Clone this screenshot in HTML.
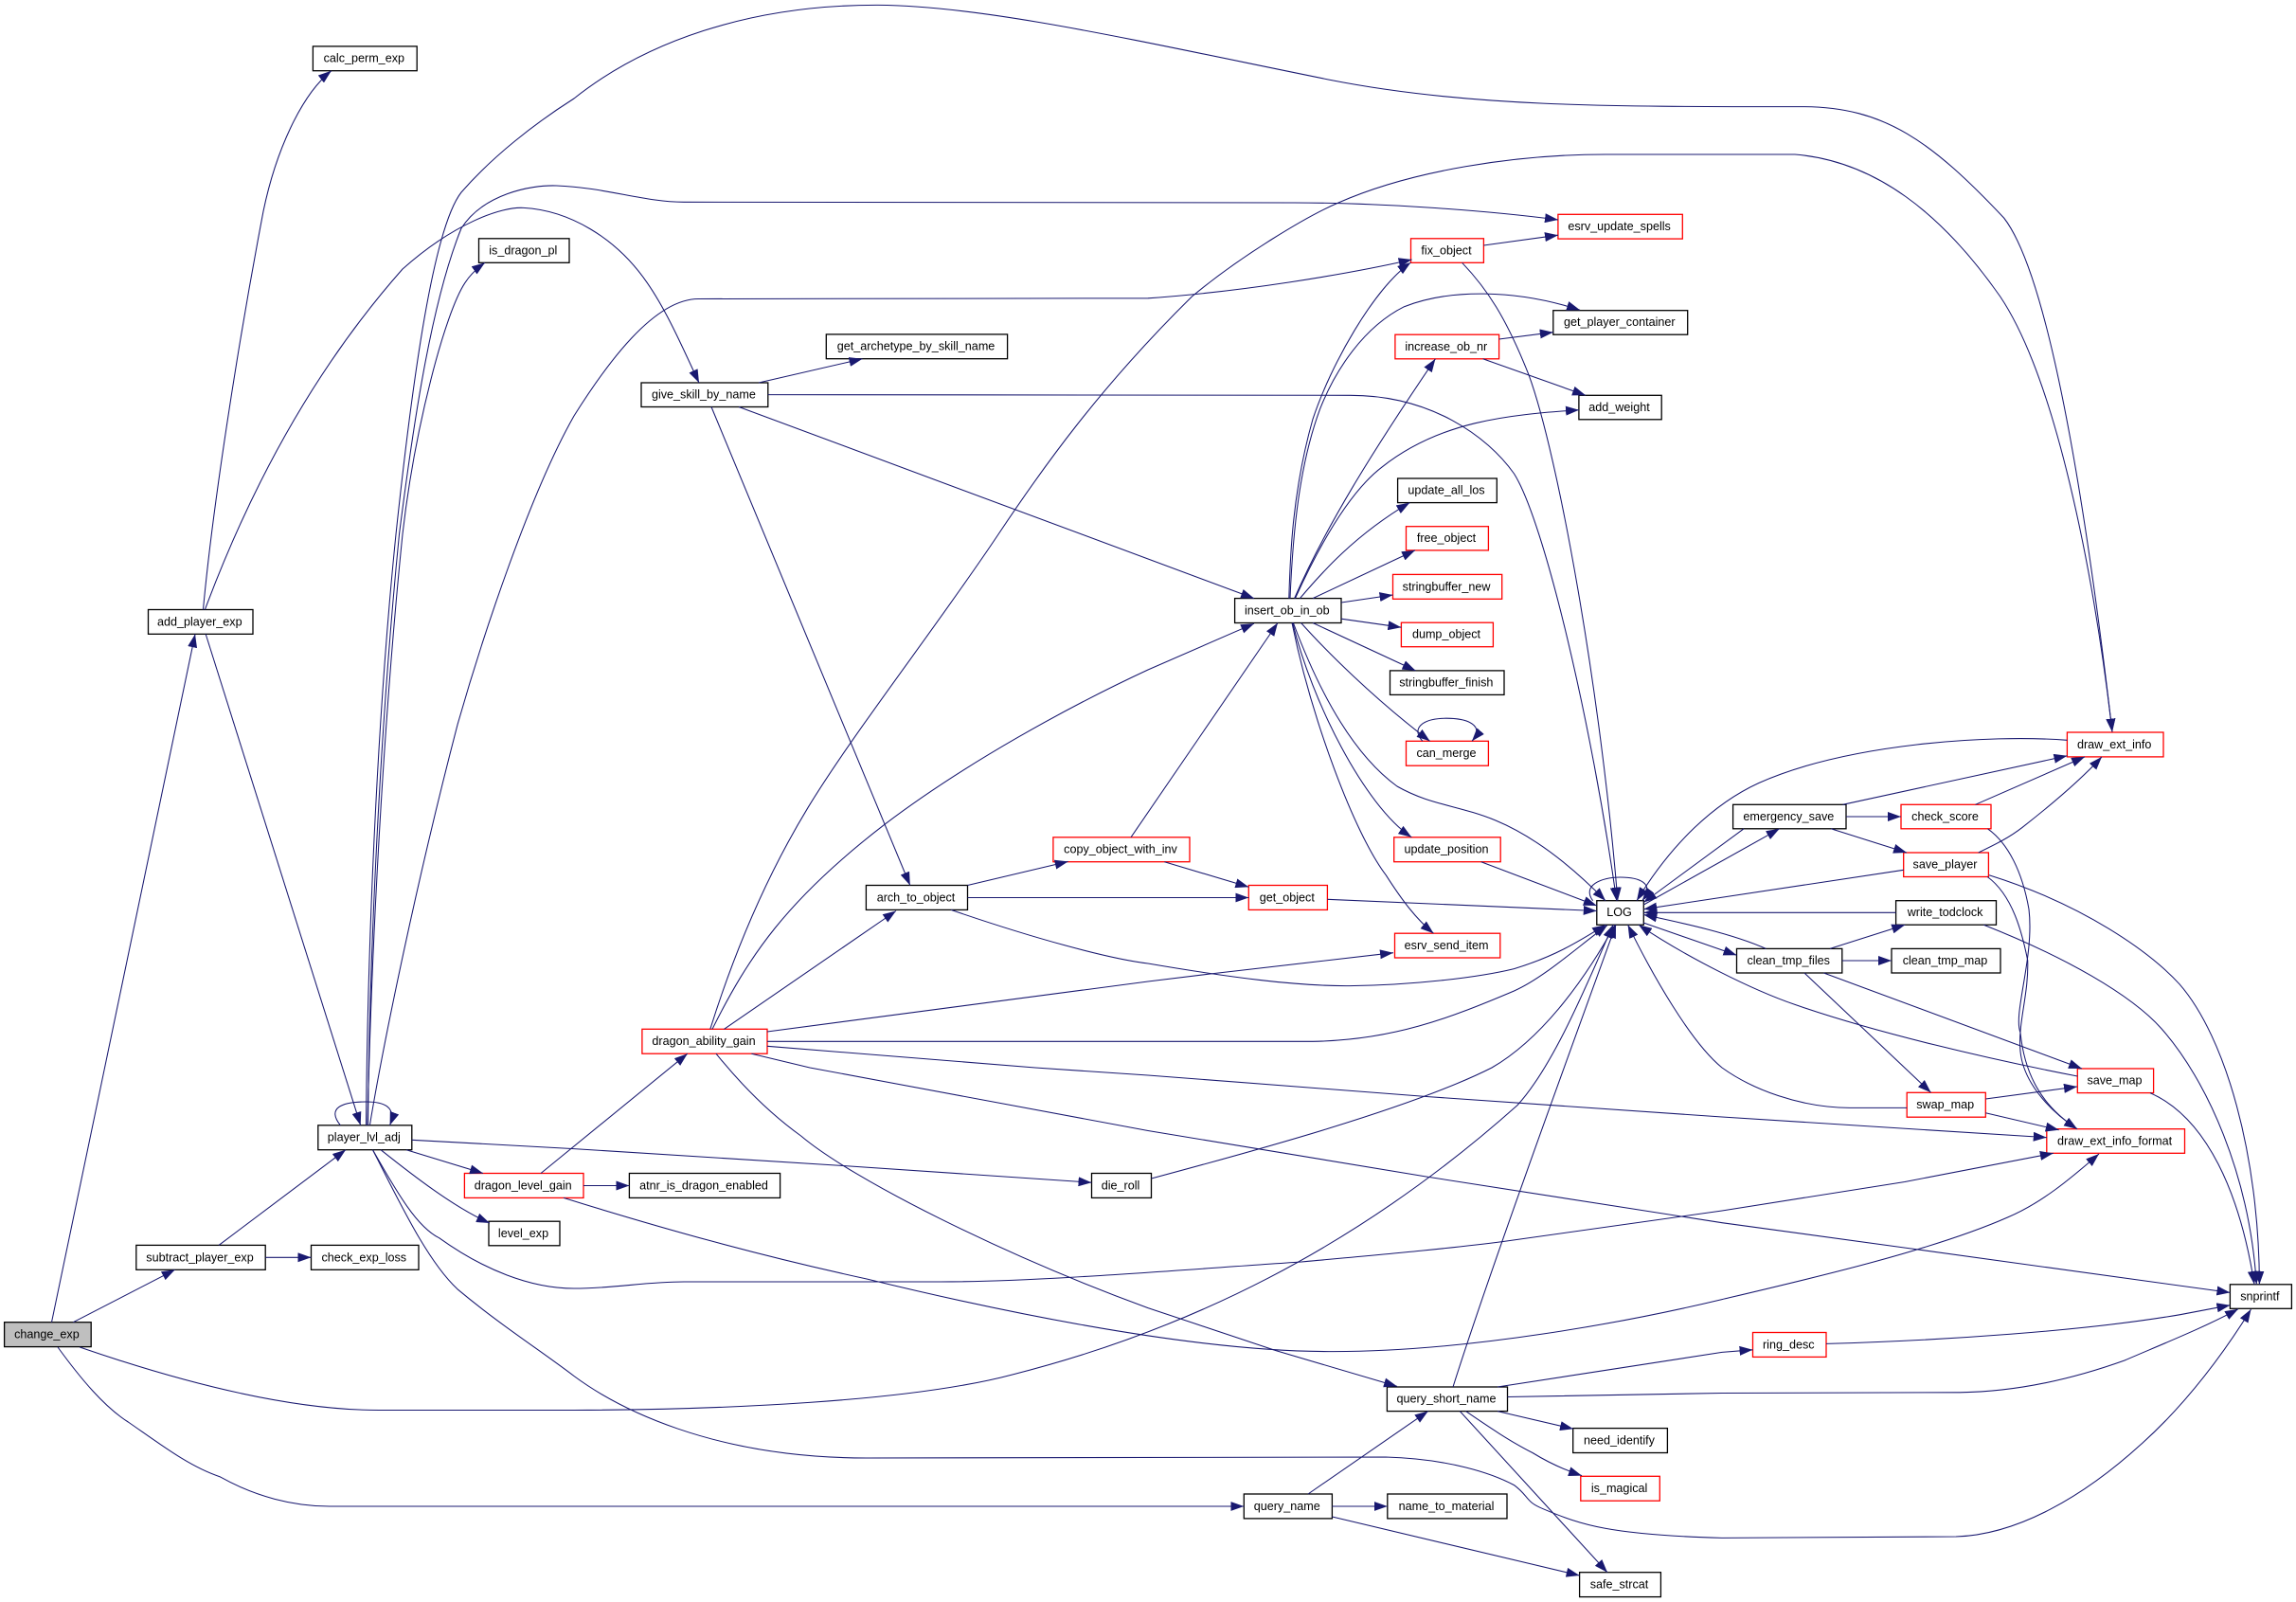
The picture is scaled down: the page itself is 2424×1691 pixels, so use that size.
<!DOCTYPE html>
<html>
<head>
<meta charset="utf-8">
<title>change_exp call graph</title>
<style>
html,body{margin:0;padding:0;background:#fff;width:2424px;height:1691px;overflow:hidden}
svg{display:block}
rect{fill:#fff;stroke-width:1.3}
rect.k{stroke:#000}
rect.r{stroke:#f00}
text{font-family:"Liberation Sans",Helvetica,Arial,sans-serif;font-size:12.6px;fill:#000;text-anchor:middle}
.e path{fill:none;stroke:#191970;stroke-width:1.05;marker-end:url(#a)}
</style>
</head>
<body>
<svg xmlns="http://www.w3.org/2000/svg" width="2424" height="1691" viewBox="0 0 2424 1691">
<defs>
<marker id="a" markerUnits="userSpaceOnUse" markerWidth="14" markerHeight="10" refX="14" refY="5" orient="auto"><path d="M0 0L14 5L0 10z" fill="#191970"/></marker>
</defs>
<rect x="0" y="0" width="2424" height="1691" style="fill:#fff;stroke:none"/>
<g>
<rect class="k" x="330.4" y="48.9" width="109.8" height="25.8"/><text x="384.3" y="65.6">calc_perm_exp</text>
<rect class="k" x="505.5" y="251.8" width="95.5" height="25.5"/><text x="552.3" y="268.3">is_dragon_pl</text>
<rect class="k" x="156.5" y="643.5" width="110.5" height="25.8"/><text x="210.8" y="660.3">add_player_exp</text>
<rect class="k" x="677" y="404" width="133.8" height="25.5"/><text x="742.9" y="420.5">give_skill_by_name</text>
<rect class="k" x="872.3" y="352.9" width="191.3" height="25.8"/><text x="967" y="369.7">get_archetype_by_skill_name</text>
<rect class="r" x="1644.9" y="226.3" width="131.4" height="25.8"/><text x="1709.6" y="243.2">esrv_update_spells</text>
<rect class="r" x="1489.5" y="251.8" width="76.9" height="25.5"/><text x="1527" y="268.3">fix_object</text>
<rect class="k" x="1639.8" y="327.7" width="141.9" height="25.5"/><text x="1709.8" y="344.2">get_player_container</text>
<rect class="r" x="1472.9" y="353.2" width="109.7" height="25.6"/><text x="1526.8" y="369.8">increase_ob_nr</text>
<rect class="k" x="1666.9" y="417.3" width="87.3" height="25.5"/><text x="1709.5" y="433.8">add_weight</text>
<rect class="k" x="1475.6" y="505" width="104.7" height="25.6"/><text x="1527" y="521.6">update_all_los</text>
<rect class="r" x="1484.5" y="555.7" width="86.9" height="25.2"/><text x="1527" y="572">free_object</text>
<rect class="r" x="1470.5" y="606.4" width="115.2" height="25.9"/><text x="1527.1" y="623.3">stringbuffer_new</text>
<rect class="r" x="1479.4" y="657.2" width="97" height="25.5"/><text x="1527" y="673.7">dump_object</text>
<rect class="k" x="1467.5" y="707.9" width="120.5" height="25.5"/><text x="1526.8" y="724.4">stringbuffer_finish</text>
<rect class="r" x="1484.5" y="782.3" width="86.9" height="25.9"/><text x="1527" y="799.2">can_merge</text>
<rect class="k" x="1303.6" y="631.6" width="112.4" height="25.9"/><text x="1358.8" y="648.5">insert_ob_in_ob</text>
<rect class="r" x="1471.7" y="883.8" width="112.5" height="25.9"/><text x="1527" y="900.7">update_position</text>
<rect class="r" x="1111.9" y="883.8" width="144.1" height="25.9"/><text x="1183" y="900.7">copy_object_with_inv</text>
<rect class="r" x="1318.3" y="934.5" width="83.1" height="25.9"/><text x="1358.8" y="951.4">get_object</text>
<rect class="k" x="1685.8" y="950.7" width="49.5" height="25.5"/><text x="1709.5" y="967.2">LOG</text>
<rect class="r" x="1472.5" y="985.2" width="111.3" height="25.8"/><text x="1527.1" y="1002">esrv_send_item</text>
<rect class="k" x="914.4" y="934.5" width="107.1" height="25.9"/><text x="967" y="951.4">arch_to_object</text>
<rect class="r" x="677.9" y="1086.3" width="132.1" height="25.9"/><text x="743" y="1103.2">dragon_ability_gain</text>
<rect class="r" x="2182.4" y="773" width="101.6" height="25.9"/><text x="2232.2" y="789.9">draw_ext_info</text>
<rect class="k" x="1829.6" y="849.3" width="119.4" height="25.5"/><text x="1888.3" y="865.8">emergency_save</text>
<rect class="r" x="2007" y="849.3" width="95" height="25.5"/><text x="2053.5" y="865.8">check_score</text>
<rect class="r" x="2009.7" y="900" width="89.7" height="25.5"/><text x="2053.5" y="916.5">save_player</text>
<rect class="k" x="2001.6" y="950.7" width="105.9" height="25.5"/><text x="2053.6" y="967.2">write_todclock</text>
<rect class="k" x="1833.5" y="1001.4" width="111.3" height="25.6"/><text x="1888.2" y="1018">clean_tmp_files</text>
<rect class="k" x="1997" y="1001.4" width="115" height="25.6"/><text x="2053.5" y="1018">clean_tmp_map</text>
<rect class="r" x="2193.3" y="1128" width="80.3" height="25.6"/><text x="2232.5" y="1144.6">save_map</text>
<rect class="r" x="2013.2" y="1153.3" width="83.1" height="25.9"/><text x="2053.7" y="1170.2">swap_map</text>
<rect class="r" x="2160.8" y="1191.7" width="145.7" height="25.6"/><text x="2232.6" y="1208.3">draw_ext_info_format</text>
<rect class="k" x="2354.4" y="1355.8" width="65" height="25.5"/><text x="2385.9" y="1372.3">snprintf</text>
<rect class="r" x="1850.5" y="1406.5" width="77.5" height="25.9"/><text x="1888.3" y="1423.4">ring_desc</text>
<rect class="k" x="335.8" y="1187.8" width="99" height="25.9"/><text x="384.3" y="1204.7">player_lvl_adj</text>
<rect class="r" x="490.4" y="1238.5" width="125.6" height="25.9"/><text x="552.2" y="1255.4">dragon_level_gain</text>
<rect class="k" x="516" y="1289.2" width="75" height="25.6"/><text x="552.5" y="1305.8">level_exp</text>
<rect class="k" x="143.8" y="1314.4" width="136.4" height="25.9"/><text x="211" y="1331.3">subtract_player_exp</text>
<rect class="k" x="328.5" y="1314.4" width="113.5" height="25.9"/><text x="384.3" y="1331.3">check_exp_loss</text>
<rect class="k" x="4.6" y="1395.7" width="91.6" height="25.9" style="fill:#bfbfbf"/><text x="49.4" y="1412.6">change_exp</text>
<rect class="k" x="664.4" y="1238.5" width="159.2" height="25.9"/><text x="743" y="1255.4">atnr_is_dragon_enabled</text>
<rect class="k" x="1152.5" y="1238.5" width="63" height="25.9"/><text x="1183" y="1255.4">die_roll</text>
<rect class="k" x="1464.4" y="1464" width="127.1" height="25.6"/><text x="1527" y="1480.6">query_short_name</text>
<rect class="k" x="1660.7" y="1507.6" width="99.7" height="25.9"/><text x="1709.5" y="1524.5">need_identify</text>
<rect class="r" x="1668.8" y="1558.3" width="83.5" height="25.9"/><text x="1709.6" y="1575.2">is_magical</text>
<rect class="k" x="1313.3" y="1577" width="93.1" height="25.9"/><text x="1358.8" y="1593.9">query_name</text>
<rect class="k" x="1464.8" y="1577" width="126.2" height="25.9"/><text x="1527" y="1593.9">name_to_material</text>
<rect class="k" x="1667.6" y="1659.7" width="85.8" height="25.9"/><text x="1709.5" y="1676.6">safe_strcat</text>
</g>
<g class="e">
<path d="M54.5 1395.7L206 669.4"/>
<path d="M214.5 643.5C224 540 250 370 278 223C291 160 318 100 349.8 74.8"/>
<path d="M216.4 643.5C270 500 340 380 425 284C480 235 530 218 552.7 219.4C600 222 650 250 683.3 298.6C705 330 722 370 738 404"/>
<path d="M217.2 669.4L380.7 1187.8"/>
<path d="M386.5 1187.8C388 1000 398 760 418 564C436 395 458 240 487 203C520 165 565 130 606 104C680 45 790 5 927 5.4C1040 6 1200 43 1405 84.5C1550 113 1700 112.6 1903 112.6C1990 112.6 2040 150 2115.6 230C2170 300 2210 600 2230 772.6"/>
<path d="M388.5 1187.8C390 1000 402 760 421.5 564C436 450 455 320 487 241C510 205 560 195 587.5 196C640 198 680 213.3 722 213.3L1366 214C1450 214 1560 221 1645 232"/>
<path d="M388 1187.8C392 1000 405 760 425 564C438 450 470 330 490.9 298.6C497 289 504 283 512 277.3"/>
<path d="M390.4 1187.8C405 1100 440 930 483 765C510 670 560 520 606 439C640 385 690 315.5 737.4 315.5L1212 314.8C1310 308 1420 290 1490.6 274"/>
<path d="M359.4 1187.8C345 1170 360 1163 386.5 1163C405 1163 419 1168 411.6 1187.8"/>
<path d="M231 1314.4L365 1213.7"/>
<path d="M77.3 1395.7L184.7 1340.3"/>
<path d="M280.2 1327.3L328.5 1327.3"/>
<path d="M429 1213.7L510 1238.5"/>
<path d="M402 1213.7C435 1240 480 1275 517 1291"/>
<path d="M434.8 1203.3L606 1212.6L892 1230.6L1152.5 1248.2"/>
<path d="M1215.5 1244C1320 1216 1490 1170 1575 1127C1625 1098 1670 1040 1705 976.2"/>
<path d="M84.2 1422C180 1455 300 1488.5 400 1488.5L606 1488.5C760 1488 960 1480 1069.8 1450.7C1250 1405 1430 1320 1602 1166.6C1640 1125 1675 1040 1703 976.2"/>
<path d="M1534 1464C1570 1350 1650 1130 1706 976.2"/>
<path d="M810 1099.3L1386 1099.3C1470 1098 1530 1075 1598.5 1046C1630 1032 1665 1000 1697 976.6"/>
<path d="M1004 960.4C1090 990 1170 1012 1212 1017C1300 1032 1370 1041 1424.6 1040.6C1490 1040 1560 1032 1598.5 1022.6C1640 1010 1665 995 1695 976.2"/>
<path d="M393.5 1213.7C420 1260 440 1295 463.8 1306.8C510 1340 560 1360 606 1360C650 1360 680 1353 722 1353L992.5 1353C1100 1353 1250 1340 1374 1332C1450 1325 1530 1318 1587 1310.5L1818 1278L2011 1247.5L2167.8 1217.3"/>
<path d="M393.5 1213.7C420 1265 450 1330 483 1360.8C530 1400 570 1425 606 1452.5C650 1485 750 1539 915 1539L1463 1538C1530 1540 1575 1555 1598.5 1567.6C1615 1580 1610 1585 1629.4 1592.8C1670 1610 1700 1620 1818 1623.4L2065 1622C2130 1620 2200 1580 2262.4 1522.7C2310 1480 2350 1425 2376.5 1382"/>
<path d="M595 1264.4C700 1297 800 1325 915 1350C1030 1378 1250 1427 1405 1426.6C1550 1427 1720 1395 1818 1371.6C1910 1350 2040 1320 2119.5 1285C2155 1270 2185 1245 2216 1218"/>
<path d="M571 1238.5L725.8 1112.2"/>
<path d="M616 1251.5L664.4 1251.5"/>
<path d="M756 1112.2C785 1148 815 1177 845.6 1199C900 1245 1060 1325 1212 1380.6L1347 1425.6L1475 1463.4"/>
<path d="M793.4 1112.2L855 1127L1212 1193.5L1505.7 1242L1818 1290.7L2015 1317.6L2354.4 1364.4"/>
<path d="M810 1104.3L1093 1127L1212 1135L1507.7 1157.6L1818 1179L2160.8 1200.7"/>
<path d="M810 1089L1212 1036L1277.7 1028L1471 1005.7"/>
<path d="M764.5 1086.3L946 961.5"/>
<path d="M752 1086.3C790 1010 830 950 934.5 869.8C1020 805 1130 745 1212 707L1324 658.2"/>
<path d="M749.8 1086.3C780 990 815 915 853.4 851.8C900 775 990 660 1054 564C1100 495 1160 410 1258.4 313C1310 270 1380 228 1413 214C1490 180 1600 163 1695 163L1895 163C1980 170 2050 225 2111.7 313C2170 400 2210 600 2230 772.6"/>
<path d="M801 404L910.5 378.8"/>
<path d="M810.8 416.6L1424.6 417.3C1510 417 1570 460 1598.5 500C1630 550 1680 760 1706.7 950.7"/>
<path d="M1543.6 277.3C1570 305 1590 335 1614 395.7C1645 480 1690 730 1707.9 950.7"/>
<path d="M780 429.5L1324 631.6"/>
<path d="M751 429.5L960.8 934.5"/>
<path d="M1021.5 934.5L1127.7 909.4"/>
<path d="M1021.5 947.5L1318.3 947.5"/>
<path d="M1194 883.8L1349 657.5"/>
<path d="M1229.4 909.7L1318.3 936.3"/>
<path d="M1401.4 949.3L1685.8 961.5"/>
<path d="M1360.8 631.6C1362 590 1364 520 1386 442.4C1405 385 1450 305 1489.5 277"/>
<path d="M1362 631.6C1365 560 1372 490 1393.6 431.7C1410 390 1440 345 1482.5 323.7C1530 305 1600 305 1668 327.3"/>
<path d="M1366.6 631.6C1400 555 1450 475 1515.4 378.8"/>
<path d="M1367.4 631.6C1400 560 1430 515 1459.3 492.8C1520 445 1590 438 1667 432.7"/>
<path d="M1372.4 631.6C1395 605 1430 565 1488.3 530.6"/>
<path d="M1386 631.6L1494 580.9"/>
<path d="M1416 636L1470.5 628"/>
<path d="M1416 653.2L1479.4 662.2"/>
<path d="M1386 657.5L1494.5 707.9"/>
<path d="M1373.6 657.5C1400 687 1450 737 1509.6 782.3"/>
<path d="M1365.4 657.5C1385 710 1420 790 1475 830C1510 850 1540 850 1579 866C1620 883 1660 915 1695 950.7"/>
<path d="M1364.7 657.5C1385 740 1440 850 1490.3 883.8"/>
<path d="M1364 657.5C1385 760 1430 880 1463.2 923.7C1480 950 1495 970 1513.5 985.2"/>
<path d="M1582.6 358L1639.8 350.7"/>
<path d="M1565.6 378.8L1674 417.3"/>
<path d="M1566.4 259L1645 248.2"/>
<path d="M1501.9 782.3C1490 770 1500 758.2 1527 758.2C1550 758.2 1568 766 1554 782.3"/>
<path d="M1563.7 909.7L1685.8 956"/>
<path d="M1681.6 950.7C1670 935 1690 926 1710.6 926C1730 926 1748 932 1733.8 950.7"/>
<path d="M2182.4 781.3C2100 775 1950 785 1856.6 826.6C1810 848 1765 890 1728 950.7"/>
<path d="M1735.3 955L1878.7 874.8"/>
<path d="M1841 874.8L1735.3 952.5"/>
<path d="M2009.7 918.3L1735.3 959.7"/>
<path d="M2001.6 963.3L1735.3 963.3"/>
<path d="M1864.4 1001.4C1830 986 1780 975 1735.3 965.5"/>
<path d="M1735 974L1833.5 1008.2"/>
<path d="M2193.3 1136C2100 1118 1980 1090 1895 1060.4C1850 1045 1780 1010 1730 976.2"/>
<path d="M2013.2 1169.4L1953 1169.4C1900 1169 1850 1150 1818 1127C1785 1100 1745 1030 1718.6 976.2"/>
<path d="M1581 1464L1818 1427.4L1850.5 1424.8"/>
<path d="M1591.5 1474.5L1818 1470.5L2069.2 1469.8C2130 1469 2190 1455 2243 1436C2280 1420 2330 1400 2363 1381.7"/>
<path d="M1928 1418.4C2050 1415 2200 1405 2301 1387.8L2354.4 1377.7"/>
<path d="M1581 1489.6L1661 1508.3"/>
<path d="M1547.5 1489.6C1570 1505 1595 1522 1618 1533.5C1635 1544 1650 1551 1670 1557.6"/>
<path d="M1541.3 1489.6L1697 1659.7"/>
<path d="M1381 1577L1507.7 1489.6"/>
<path d="M1406.4 1590L1464.8 1590"/>
<path d="M1406.4 1601L1667.6 1663"/>
<path d="M61 1422C85 1455 110 1485 135.3 1501C170 1525 200 1548 232 1558.7C270 1580 310 1590 347.9 1590L1313.3 1590"/>
<path d="M1945.5 849.3L2182.4 797.8"/>
<path d="M1949 862L2007 862"/>
<path d="M1933 874.8L2013 900"/>
<path d="M2085.5 849.3L2201 798.9"/>
<path d="M2088.7 900C2105 892 2120 885 2135 873.4C2165 850 2195 825 2219 798.9"/>
<path d="M2098.5 874.8C2120 890 2135 920 2142 959.7C2148 1010 2125 1070 2133 1090C2138 1140 2160 1170 2193 1191.7"/>
<path d="M2098.2 925.5C2125 945 2135 985 2140.7 1013.7C2142 1050 2130 1080 2133 1110C2136 1140 2160 1170 2193 1191.7"/>
<path d="M2100 923.7C2200 955 2270 1005 2301 1038.8C2350 1095 2385 1220 2385.4 1355.8"/>
<path d="M2094.3 976.2C2180 1010 2250 1050 2281.8 1085.6C2330 1140 2375 1240 2382.3 1355.8"/>
<path d="M2270 1153.6C2330 1180 2365 1260 2380 1355.8"/>
<path d="M1932 1001.4L2011.2 976.2"/>
<path d="M1944.8 1014L1997 1014"/>
<path d="M1925.4 1027L2198 1128"/>
<path d="M1905 1027L2038.6 1153.3"/>
<path d="M2096.3 1160L2193 1147"/>
<path d="M2096.3 1174.8L2173.7 1192.8"/>
</g>
</svg>
</body>
</html>
